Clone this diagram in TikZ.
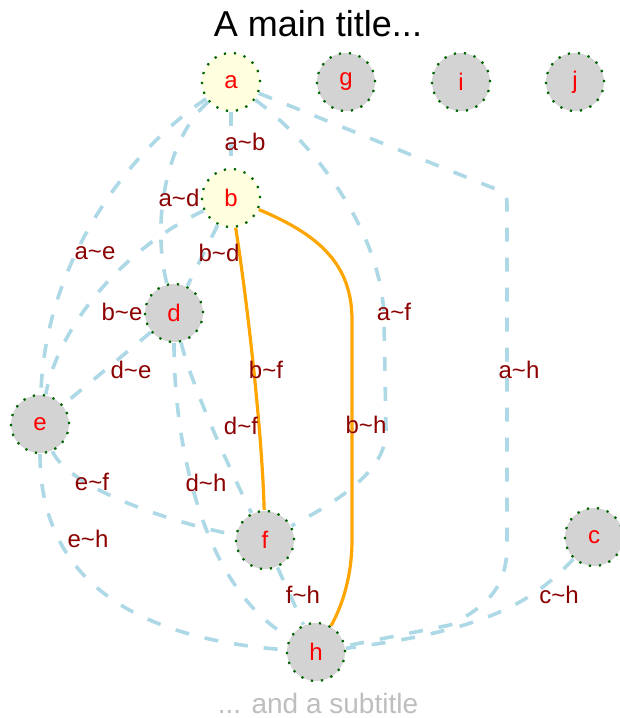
\documentclass[tikz,border=0pt]{standalone}
\usepackage{fontspec}
\setmainfont{Liberation Sans}
\usetikzlibrary{positioning}
\usetikzlibrary{calc}

\definecolor{edgeblue}{HTML}{ADD8E6}
\definecolor{vyellow}{HTML}{FFFFE0}
\definecolor{vgray}{HTML}{D3D3D3}
\definecolor{vborder}{HTML}{006400}
\definecolor{labred}{HTML}{8B0000}
\definecolor{subgray}{HTML}{BEBEBE}
\definecolor{hilite}{HTML}{FFA500}

\begin{document}
\begin{tikzpicture}[x=1pt, y=-1pt,
		vtx/.style={circle, draw=vborder, line width=2.2pt, dash pattern=on 2.2pt off 7.9pt, fill=vgray, minimum size=58pt, inner sep=0pt, text=red, font=\fontsize{24}{24}\selectfont},
		edge/.style={edgeblue, line width=3.6pt, dash pattern=on 14pt off 16pt},
		hot/.style={hilite, line width=3.2pt},
		elab/.style={text=labred, inner sep=0pt, font=\fontsize{24}{24}\selectfont}]
			\useasboundingbox (0,0) rectangle (620,718);

			% title and subtitle
			\node[font=\fontsize{36}{36}\selectfont] (title) at (318,24) {A main title...};
			\node[text=subgray, font=\fontsize{28}{28}\selectfont] (subtitle) at (318,703) {... and a subtitle};

			% vertices
			\node[vtx, fill=vyellow] (a) at (231,82) {a};
			\node[vtx, fill=vyellow] (b) at (231,198) {b};
			\foreach \n/\x in {g/346, i/461, j/575}
				{\node[vtx] (\n) at (\x,82) {\n};}
			\node[vtx] (d) at (174,313) {d};
			\node[vtx] (e) at (40,424) {e};
			\node[vtx] (f) at (265,540) {f};
			\node[vtx] (c) at (594,537) {c};
			\node[vtx] (h) at (316,652) {h};

			% dashed edges
			\draw[edge] (a) -- (b);
			\draw[edge] (a) .. controls (170,135) and (150,215) .. (d);
			\draw[edge] (a) .. controls (130,150) and (45,260) .. (e);
			\draw[edge] (a) .. controls (310,140) and (383,230) .. (384,320) -- (386,430) .. controls (387,470) and (340,500) .. (f);
			\draw[edge] (a) -- (498,190) .. controls (507,194) .. (507,210) -- (507,545) .. controls (507,585) and (490,605) .. (450,625) -- (h);
			\draw[edge] (b) -- (d);
			\draw[edge] (b) .. controls (130,245) and (60,320) .. (e);
			\draw[edge] (d) -- (e);
			\draw[edge] (d) .. controls (190,380) and (225,460) .. (f);
			\draw[edge] (d) .. controls (174,450) and (205,590) .. (h);
			\draw[edge] (e) .. controls (70,490) and (180,525) .. (f);
			\draw[edge] (e) .. controls (40,590) and (150,640) .. (h);
			\draw[edge] (f) -- (h);
			\draw[edge] (c) .. controls (535,600) and (490,630) .. (h);

			% highlighted edges
			\draw[hot] (b) .. controls (247,300) and (262,430) .. (f);
			\draw[hot] (b) .. controls (320,235) and (352,265) .. (352,320) -- (352,540) .. controls (352,580) and (340,610) .. (h);

			% edge labels
			\foreach \u/\v/\x/\y in {a/b/245/142, a/d/179/198, a/e/95/253, b/d/219/253, b/e/122/312,
				d/e/131/370, a/f/394/312, b/f/266/370, a/h/519/370, d/f/241/426, b/h/366/425,
				e/f/92/482, d/h/206/483, e/h/88/539, f/h/303/595, c/h/559/595}
				{\node[elab] (l\u\v) at (\x,\y) {\u\textasciitilde\v};}
		\end{tikzpicture}
\end{document}
